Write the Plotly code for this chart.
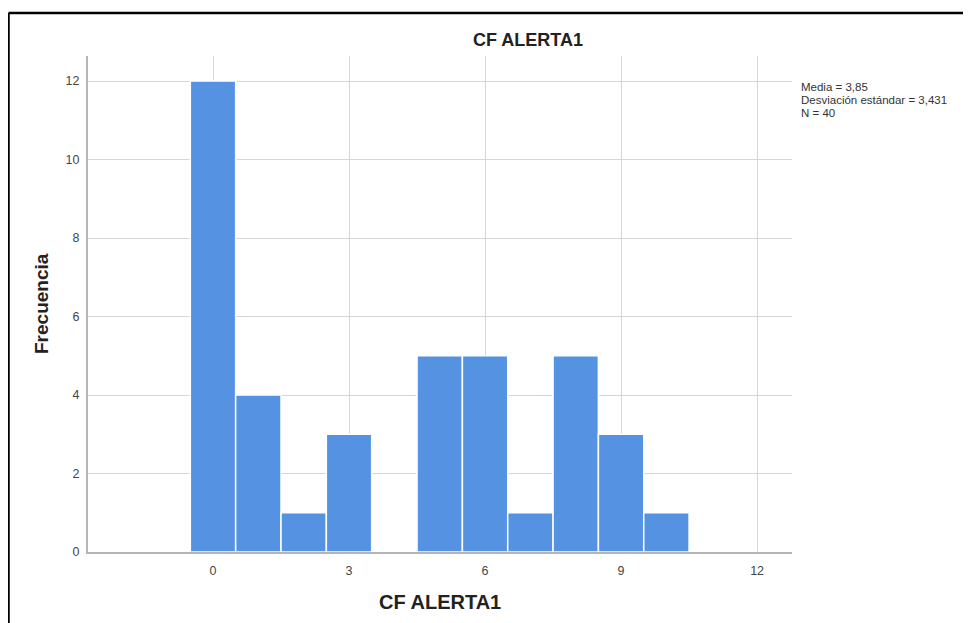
import plotly.graph_objects as go

# Data
values = [0, 1, 2, 3, 4, 5, 6, 7, 8, 9, 10]
counts = [12, 4, 1, 3, 0, 5, 5, 1, 5, 3, 1]
x_ticks = [0, 3, 6, 9, 12]
y_ticks = [0, 2, 4, 6, 8, 10, 12]
stats_lines = ["Media = 3,85", "Desviación estándar = 3,431", "N = 40"]
chart_title = "CF ALERTA1"
x_title = "CF ALERTA1"
y_title = "Frecuencia"

# page body has an 8px margin; work in page pixels and shift
OFF = 8
PW, PH = 971, 623
W, H = PW - OFF, PH - OFF
L, R, T, B = 88, 792, 56, 552          # plot area in page pixels
pw, ph = R - L, B - T

def px_x(p):
    return (p - L) / pw

def px_y(p):
    return (B - p) / ph

FONT = "Liberation Sans, Arial, sans-serif"

fig = go.Figure()
fig.add_trace(go.Bar(
    x=values, y=counts, width=1,
    marker=dict(color="#5593E2", line=dict(color="white", width=1.5)),
    showlegend=False,
))

fig.update_layout(
    width=W, height=H, autosize=False,
    margin=dict(l=L - OFF, r=PW - R, t=T - OFF, b=PH - B),
    paper_bgcolor="white", plot_bgcolor="white",
    font=dict(family=FONT, size=12, color="#454545"),
    title=dict(text="<b>" + chart_title + "</b>", x=px_x(528), xref="paper",
               xanchor="center", y=1 - (40 - OFF) / H, yanchor="middle",
               font=dict(size=18, color="#222222", family=FONT)),
    xaxis=dict(range=[-2.757, 12.77], tickvals=x_ticks, showgrid=True,
               gridcolor="#d6d6d6", gridwidth=1, zeroline=False,
               showline=True, linecolor="#b5b5b5", linewidth=2,
               ticks="outside", ticklen=6, tickcolor="rgba(0,0,0,0)",
               tickfont=dict(size=12.5, color="#454545")),
    yaxis=dict(range=[0, 12.64], tickvals=y_ticks, showgrid=True,
               gridcolor="#d6d6d6", gridwidth=1, zeroline=False,
               showline=True, linecolor="#b5b5b5", linewidth=2,
               ticks="outside", ticklen=4, tickcolor="rgba(0,0,0,0)",
               tickfont=dict(size=12.5, color="#454545")),
)

# Axis titles
fig.add_annotation(text="<b>" + x_title + "</b>", xref="paper", yref="paper",
                   x=0.5, y=px_y(602), xanchor="center", yanchor="middle",
                   showarrow=False, font=dict(size=20, color="#222222", family=FONT))
fig.add_annotation(text="<b>" + y_title + "</b>", xref="paper", yref="paper",
                   x=px_x(41), y=0.5, xanchor="center", yanchor="middle",
                   textangle=-90, showarrow=False,
                   font=dict(size=19, color="#222222", family=FONT))

# Statistics box text
for i, line in enumerate(stats_lines):
    fig.add_annotation(text=line, xref="paper", yref="paper",
                       x=px_x(799), y=px_y(87 + 13 * i), xanchor="left",
                       yanchor="middle", showarrow=False,
                       font=dict(size=11.5, color="#333333", family=FONT))

# Outer frame (left and top edges)
fig.add_shape(type="line", xref="paper", yref="paper",
              x0=px_x(8.5), x1=px_x(8.5), y0=px_y(13), y1=px_y(640),
              line=dict(color="black", width=2.5))
fig.add_shape(type="line", xref="paper", yref="paper",
              x0=px_x(8.5), x1=px_x(990), y0=px_y(13), y1=px_y(13),
              line=dict(color="black", width=2.5))

fig.write_html("out.html")
